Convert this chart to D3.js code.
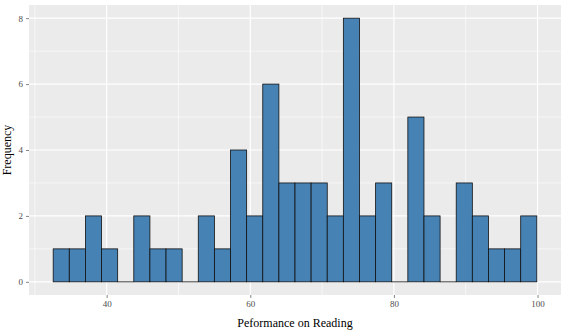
<!DOCTYPE html>
<html>
<head>
<meta charset="utf-8">
<script src="https://cdn.jsdelivr.net/npm/d3@7"></script>
<style>
  body { margin: 0; background: #fff; }
  text { font-family: "Liberation Serif", "DejaVu Serif", serif; }
</style>
</head>
<body>
<svg id="chart" width="570" height="333"></svg>
<script>
// histogram counts, 30 bins
var counts = [1, 1, 2, 1, 0, 2, 1, 1, 0, 2, 1, 4, 2, 6, 3, 3, 3, 2, 8, 2, 3, 0, 5, 2, 0, 3, 2, 1, 1, 2];
var binStart = 32.55, binWidth = 2.245;
var xTicks = [40, 60, 80, 100];
var xMinor = [30, 50, 70, 90];
var yTicks = [0, 2, 4, 6, 8];
var yMinor = [1, 3, 5, 7];
var xTitle = "Peformance on Reading";
var yTitle = "Frequency";

var bins = counts.map(function (c, i) {
    return {x0: binStart + i * binWidth, x1: binStart + (i + 1) * binWidth, n: c};
});

var svg = d3.select("#chart"),
    margin = {top: 5, right: 9, bottom: 38, left: 29},
    width = 570 - margin.left - margin.right,
    height = 333 - margin.top - margin.bottom,
    g = svg.append("g").attr("transform", "translate(" + margin.left + "," + margin.top + ")");

var lo = bins[0].x0, hi = bins[bins.length - 1].x1, pad = (hi - lo) * 0.05;
var x = d3.scaleLinear().domain([lo - pad, hi + pad]).range([0, width]);
var yMax = d3.max(counts);
var y = d3.scaleLinear().domain([-yMax * 0.05, yMax * 1.05]).range([height, 0]);

// panel
g.append("rect").attr("width", width).attr("height", height).attr("fill", "#EBEBEB");

// minor grid
g.selectAll(".xminor").data(xMinor).enter().append("line")
    .attr("x1", function (d) { return x(d); }).attr("x2", function (d) { return x(d); })
    .attr("y1", 0).attr("y2", height)
    .attr("stroke", "#fff").attr("stroke-width", 0.6);
g.selectAll(".yminor").data(yMinor).enter().append("line")
    .attr("x1", 0).attr("x2", width)
    .attr("y1", function (d) { return y(d); }).attr("y2", function (d) { return y(d); })
    .attr("stroke", "#fff").attr("stroke-width", 0.6);

// major grid
g.selectAll(".xmajor").data(xTicks).enter().append("line")
    .attr("x1", function (d) { return x(d); }).attr("x2", function (d) { return x(d); })
    .attr("y1", 0).attr("y2", height)
    .attr("stroke", "#fff").attr("stroke-width", 1.2);
g.selectAll(".ymajor").data(yTicks).enter().append("line")
    .attr("x1", 0).attr("x2", width)
    .attr("y1", function (d) { return y(d); }).attr("y2", function (d) { return y(d); })
    .attr("stroke", "#fff").attr("stroke-width", 1.2);

// bars
g.selectAll(".bar").data(bins.filter(function (d) { return d.n > 0; })).enter().append("rect")
    .attr("x", function (d) { return x(d.x0); })
    .attr("width", function (d) { return x(d.x1) - x(d.x0); })
    .attr("y", function (d) { return y(d.n); })
    .attr("height", function (d) { return y(0) - y(d.n); })
    .attr("fill", "steelblue")
    .attr("stroke", "#111")
    .attr("stroke-width", 0.8);

// empty bins still get their outline on the baseline
g.selectAll(".empty").data(bins.filter(function (d) { return d.n == 0; })).enter().append("line")
    .attr("x1", function (d) { return x(d.x0); })
    .attr("x2", function (d) { return x(d.x1); })
    .attr("y1", y(0)).attr("y2", y(0))
    .attr("stroke", "#111")
    .attr("stroke-width", 0.8);

// axes
var xAxis = g.append("g")
    .attr("transform", "translate(0," + height + ")")
    .call(d3.axisBottom(x).tickValues(xTicks).tickSize(3).tickPadding(3));
var yAxis = g.append("g")
    .call(d3.axisLeft(y).tickValues(yTicks).tickSize(3).tickPadding(3));

[xAxis, yAxis].forEach(function (a) {
    a.select(".domain").remove();
    a.selectAll("line").attr("stroke", "#333").attr("stroke-width", 0.6);
    a.selectAll("text").attr("fill", "#4D4D4D").style("font-size", "9px")
        .style("font-family", "'Liberation Serif', serif");
});

// titles
svg.append("text")
    .attr("x", margin.left + width / 2)
    .attr("y", 327)
    .attr("text-anchor", "middle")
    .style("font-size", "12px")
    .attr("fill", "#000")
    .text(xTitle);

svg.append("text")
    .attr("transform", "translate(11," + (margin.top + height / 2) + ") rotate(-90)")
    .attr("text-anchor", "middle")
    .style("font-size", "12px")
    .attr("fill", "#000")
    .text(yTitle);
</script>
</body>
</html>
